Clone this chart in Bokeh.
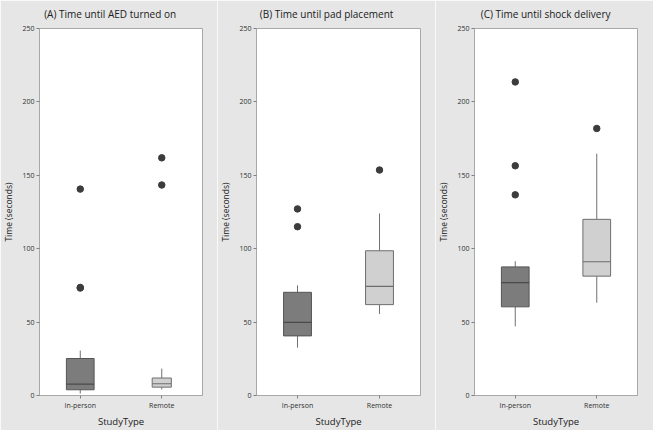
from bokeh.plotting import figure
from bokeh.layouts import row
from bokeh.models import Range1d, FixedTicker, Title, ColumnDataSource
from bokeh.embed import file_html
from bokeh.resources import INLINE

# ---------------- data ----------------
titles = ["(A) Time until AED turned on",
          "(B) Time until pad placement",
          "(C) Time until shock delivery"]
categories = ["In-person", "Remote"]
y_ticks = [0, 50, 100, 150, 200, 250]

lower_whisker = [[1.3, 4.1], [32.6, 55.6], [47.1, 63.2]]
q1 = [[3.9, 5.7], [40.6, 61.9], [60.4, 81.3]]
median = [[7.8, 8.0], [49.8, 74.3], [76.9, 91.1]]
q3 = [[25.2, 11.9], [70.3, 98.6], [87.6, 120.0]]
upper_whisker = [[30.6, 18.3], [75.0, 124.0], [91.5, 164.7]]
outliers = [
    [[140.6, 73.2, 73.6], [161.9, 143.4]],
    [[127.1, 115.0], [153.6]],
    [[213.6, 156.5, 136.7], [181.9]],
]

# ---------------- styling / geometry ----------------
FONT = "Open Sans"
BG = "#e6e6e6"
H = 430
BT, BB = 26, 34
widths = [217, 218, 218]
borders_left = [38, 39, 38]
borders_right = [15, 15, 16]
box_widths = [[0.34, 0.235], [0.34, 0.34], [0.34, 0.34]]
fills = ["#7c7c7c", "#d0d0d0"]
edges = ["#555555", "#6e6e6e"]
med_colors = ["#4a4a4a", "#6e6e6e"]
whisk_color = "#707070"
pt_color = "#3c3c3c"
TITLE_PX = 10

# approximate Open Sans advance widths (units per 2048 em) for centring titles over panels
ADV = {" ": 532, "(": 578, ")": 578, "A": 1296, "B": 1327, "C": 1292, "D": 1493, "E": 1124,
       "T": 1128, "a": 1139, "c": 975, "d": 1255, "e": 1149, "h": 1257, "i": 518, "k": 1075,
       "l": 518, "m": 1905, "n": 1257, "o": 1237, "p": 1255, "r": 836, "s": 977, "t": 723,
       "u": 1257, "v": 1026, "y": 1028}


def text_width(s, px):
    return sum(ADV.get(ch, 1150) for ch in s) / 2048.0 * px


panels = []
for i in range(3):
    W = widths[i]
    p = figure(width=W, height=H, x_range=Range1d(0.5, 2.5), y_range=Range1d(0, 250),
               output_backend="svg", toolbar_location=None,
               min_border_left=borders_left[i], min_border_right=borders_right[i],
               min_border_top=BT, min_border_bottom=BB,
               background_fill_color="white", border_fill_color=BG)
    p.outline_line_color = "#a8a8a8"
    p.xgrid.visible = False
    p.ygrid.visible = False

    xs = [1, 2]
    # whiskers
    p.segment(x0=xs, x1=xs, y0=q3[i], y1=upper_whisker[i], line_color=whisk_color, line_width=1)
    p.segment(x0=xs, x1=xs, y0=lower_whisker[i], y1=q1[i], line_color=whisk_color, line_width=1)
    # boxes
    src = ColumnDataSource(dict(x=xs, top=q3[i], bottom=q1[i], w=box_widths[i],
                                fill=fills, edge=edges))
    p.vbar(x="x", top="top", bottom="bottom", width="w", source=src,
           fill_color="fill", line_color="edge", line_width=1)
    # medians
    mx0 = [x - w / 2 for x, w in zip(xs, box_widths[i])]
    mx1 = [x + w / 2 for x, w in zip(xs, box_widths[i])]
    p.segment(x0=mx0, x1=mx1, y0=median[i], y1=median[i], line_color=med_colors, line_width=1.2)
    # outliers
    ox, oy = [], []
    for k, vals in enumerate(outliers[i]):
        for v in vals:
            ox.append(xs[k])
            oy.append(v)
    p.scatter(ox, oy, size=6.5, fill_color=pt_color, line_color=pt_color)

    # axes
    for ax in (p.xaxis[0], p.yaxis[0]):
        ax.axis_line_color = "#a8a8a8"
        ax.major_tick_line_color = "#808080"
        ax.major_tick_in = 0
        ax.major_tick_out = 3
        ax.minor_tick_line_color = None
        ax.major_label_text_font = FONT
        ax.major_label_text_font_size = "7px"
        ax.major_label_text_color = "#303030"
        ax.axis_label_text_font = FONT
        ax.axis_label_text_font_style = "normal"
        ax.axis_label_text_color = "#202020"
    p.xaxis.ticker = FixedTicker(ticks=[1, 2])
    p.xaxis.major_label_overrides = {1: categories[0], 2: categories[1]}
    p.xaxis.major_label_standoff = 2
    p.xaxis.axis_label = "StudyType"
    p.xaxis.axis_label_text_font_size = "9.5px"
    p.xaxis.axis_label_standoff = 2
    p.yaxis.ticker = FixedTicker(ticks=y_ticks)
    p.yaxis.axis_label = "Time (seconds)"
    p.yaxis.axis_label_text_font_size = "8.5px"
    p.yaxis.axis_label_standoff = 5
    p.yaxis.major_label_standoff = 2

    # title centred over the whole panel (not just the frame)
    tw = text_width(titles[i], TITLE_PX)
    off = (W / 2.0 - borders_left[i]) - tw / 2.0
    p.add_layout(Title(text=titles[i], align="left", offset=off, standoff=12,
                       vertical_align="top",
                       text_font=FONT, text_font_size=f"{TITLE_PX}px",
                       text_font_style="normal", text_color="#202020"), "above")
    panels.append(p)

layout = row(*panels)
open("out.html", "w").write(file_html(layout, INLINE))
